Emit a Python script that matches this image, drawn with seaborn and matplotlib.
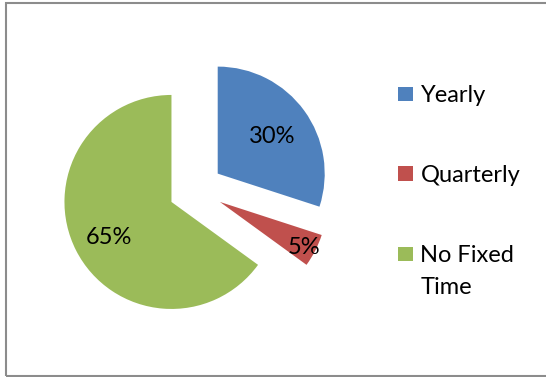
import matplotlib
matplotlib.use("Agg")
import matplotlib.pyplot as plt
from matplotlib.patches import Rectangle
import numpy as np
import seaborn as sns

# Data
categories = ["Yearly", "Quarterly", "No Fixed Time"]
shares = [30, 5, 65]
legend_labels = ["Yearly", "Quarterly", "No Fixed\nTime"]

sns.set_theme(style="white")
plt.rcParams["font.family"] = ["Lato", "DejaVu Sans"]

colors = sns.color_palette(["#4F81BD", "#C0504D", "#9BBB59"])

W, H = 546, 377
fig = plt.figure(figsize=(W / 100, H / 100), dpi=100)
ax = fig.add_axes([0, 0, 1, 1])

FS = 17    # points
R = 107    # pie radius in pixels

wedges, texts, autotexts = ax.pie(
    shares,
    colors=colors,
    startangle=90,
    counterclock=False,
    explode=[27.2] * len(shares),
    center=(195.7, H - 189.6),
    radius=R,
    autopct="%1.0f%%",
    pctdistance=0.65,
    textprops=dict(fontsize=FS, color="black"),
    wedgeprops=dict(linewidth=0),
    frame=True,
)

# place the percentage labels along each slice's bisector
label_dist = [0.63, 0.88, 0.66]
for w, t, d in zip(wedges, autotexts, label_dist):
    ang = np.deg2rad((w.theta1 + w.theta2) / 2)
    cx, cy = w.center
    t.set_position((cx + d * w.r * np.cos(ang),
                    cy + d * w.r * np.sin(ang) - 3))
    t.set_ha("center")
    t.set_va("center")

ax.set_xlim(0, W)
ax.set_ylim(0, H)
ax.set_aspect("equal")
ax.axis("off")

# legend: coloured squares with labels at the right
sq = 14.5
legend_y = [94, 173.5, 254]
line_gap = 32
for col, lab, yc in zip(colors, legend_labels, legend_y):
    ax.add_patch(Rectangle((398.3, H - yc - sq / 2), sq, sq, facecolor=col,
                           edgecolor="none"))
    for i, line in enumerate(lab.split("\n")):
        ax.text(420.5, H - (yc + 2 + i * line_gap), line, fontsize=FS,
                ha="left", va="center", color="black")

# chart area border
ax.add_patch(Rectangle((6, H - 375.5), 600, 372.5, facecolor="none",
                       edgecolor="#8C8C8C", linewidth=1.5, clip_on=False))

fig.savefig("out.png", dpi=100, facecolor="white")
